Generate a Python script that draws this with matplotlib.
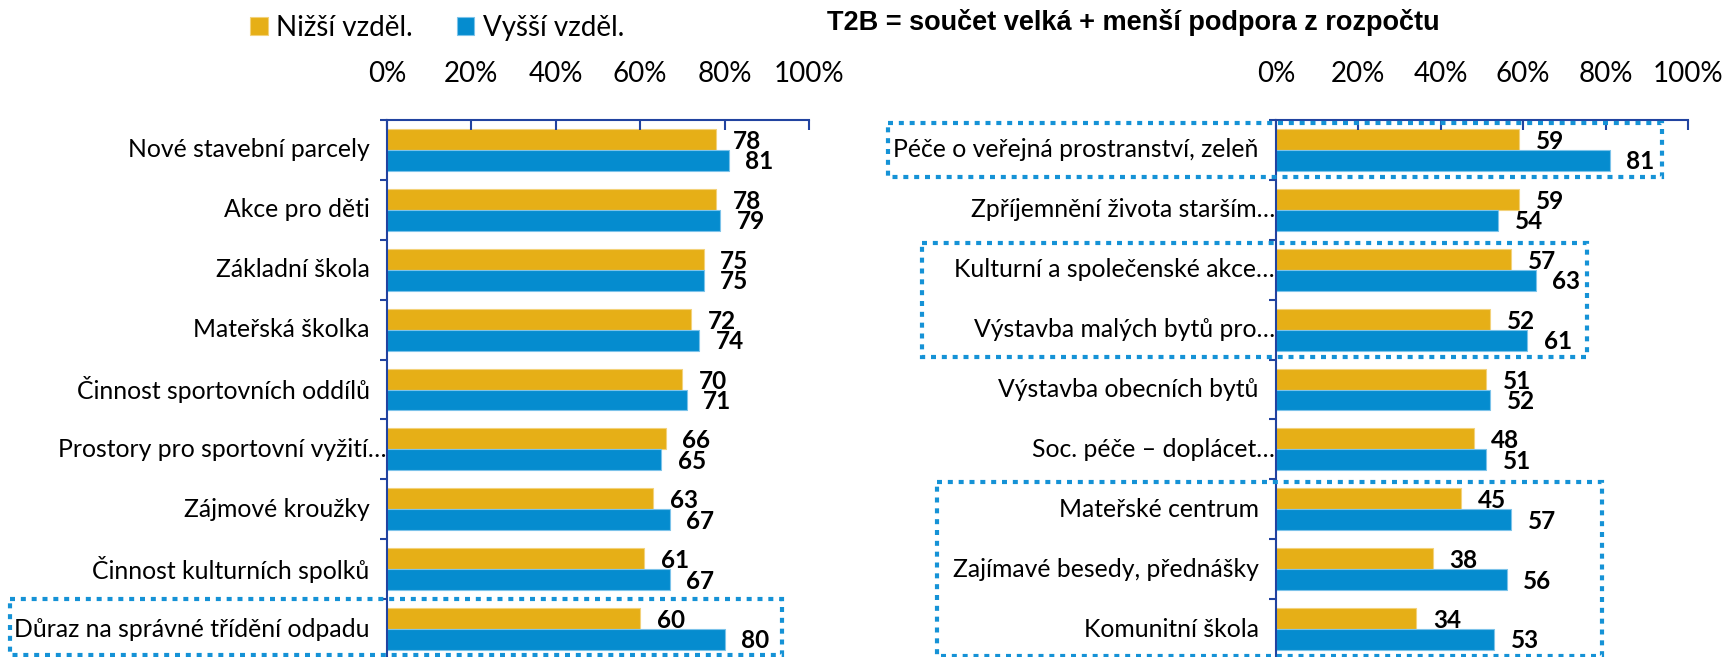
import matplotlib
matplotlib.use("Agg")
import matplotlib.pyplot as plt
import matplotlib.transforms as mtransforms
from matplotlib.patches import Rectangle
import numpy as np

plt.rcParams['font.family'] = ['Lato', 'DejaVu Sans']

SERIES = ['Nižší vzděl.', 'Vyšší vzděl.']
COLORS = ['#E6AF17', '#058CCF']

left_cats = ['Nové stavební parcely', 'Akce pro děti', 'Základní škola',
             'Mateřská školka', 'Činnost sportovních oddílů',
             'Prostory pro sportovní vyžití…', 'Zájmové kroužky',
             'Činnost kulturních spolků', 'Důraz na správné třídění odpadu']
left_low = [78, 78, 75, 72, 70, 66, 63, 61, 60]
left_high = [81, 79, 75, 74, 71, 65, 67, 67, 80]

right_cats = ['Péče o veřejná prostranství, zeleň', 'Zpříjemnění života starším…',
              'Kulturní a společenské akce…', 'Výstavba malých bytů pro…',
              'Výstavba obecních bytů', 'Soc. péče – doplácet…',
              'Mateřské centrum', 'Zajímavé besedy, přednášky', 'Komunitní škola']
right_low = [59, 59, 57, 52, 51, 48, 45, 38, 34]
right_high = [81, 54, 63, 61, 52, 51, 57, 56, 53]

x_ticks = [0, 20, 40, 60, 80, 100]
x_ticklabels = ['0%', '20%', '40%', '60%', '80%', '100%']

title = 'T2B = součet velká + menší podpora z rozpočtu'

W, H = 1726, 657
fig = plt.figure(figsize=(W / 100, H / 100), dpi=100)

SPINE = '#2143A0'
BOX = '#1592D6'
BAR_H = 0.35


def px(x0, x1):
    return x0 / W, (x1 - x0) / W


def draw_panel(ax, cats, low, high):
    y = np.arange(len(cats))
    b1 = ax.barh(y - BAR_H, [v / 100 for v in low], height=BAR_H, align='edge',
                 color=COLORS[0], edgecolor='#F3D27A', linewidth=0.8, label=SERIES[0])
    b2 = ax.barh(y, [v / 100 for v in high], height=BAR_H, align='edge',
                 color=COLORS[1], edgecolor='#7CC3EA', linewidth=0.8, label=SERIES[1])
    for i, (a, b) in enumerate(zip(low, high)):
        ax.annotate(str(a), xy=(a / 100, i - BAR_H / 2), xytext=(12, -1.5),
                    textcoords='offset points', ha='left', va='center',
                    fontsize=17.5, fontweight='bold', color='black')
        ax.annotate(str(b), xy=(b / 100, i + BAR_H / 2), xytext=(12, -1),
                    textcoords='offset points', ha='left', va='center',
                    fontsize=17.5, fontweight='bold', color='black')
    for i, c in enumerate(cats):
        off = -0.7 if c.endswith('…') else -12.5
        ax.annotate(c, xy=(0, i), xycoords=('axes fraction', 'data'),
                    xytext=(off, 0), textcoords='offset points',
                    ha='right', va='center', fontsize=17.8)
    ax.set_xlim(0, 1)
    ax.set_ylim(len(cats) - 0.5, -0.5)
    ax.xaxis.tick_top()
    ax.set_xticks([t / 100 for t in x_ticks])
    ax.set_xticklabels(x_ticklabels, fontsize=20)
    ax.tick_params(axis='x', direction='in', length=7, width=1.5, color=SPINE, pad=24)
    ax.set_yticks(np.arange(len(cats) + 1) - 0.5)
    ax.set_yticklabels([])
    ax.tick_params(axis='y', direction='out', length=5, width=1.5, color=SPINE)
    for s in ['right', 'bottom']:
        ax.spines[s].set_visible(False)
    for s in ['top', 'left']:
        ax.spines[s].set_color(SPINE)
        ax.spines[s].set_linewidth(1.5)
    return b1, b2


bottom = 1 - 659 / H
height = (659 - 120) / H
l0, lw = px(387, 809)
r0, rw = px(1276, 1688)
ax_l = fig.add_axes([l0, bottom, lw, height])
ax_r = fig.add_axes([r0, bottom, rw, height])

bars = draw_panel(ax_l, left_cats, left_low, left_high)
draw_panel(ax_r, right_cats, right_low, right_high)


def box(ax, x0, x1, c0, c1, inset=0.05, bottom_inset=None):
    tr = mtransforms.blended_transform_factory(fig.transFigure, ax.transData)
    y0 = c0 - 0.5 + inset
    y1 = c1 + 0.5 - (inset if bottom_inset is None else bottom_inset)
    r = Rectangle((x0 / W, y0), (x1 - x0) / W, y1 - y0, transform=tr,
                  fill=False, edgecolor=BOX, linewidth=3, linestyle=(0, (1.2, 1.4)),
                  clip_on=False)
    fig.add_artist(r)


box(ax_r, 888, 1662, 0, 0)
box(ax_r, 922, 1587, 2, 3)
box(ax_r, 937, 1602, 6, 8)
box(ax_l, 10, 782, 8, 8, inset=0.0, bottom_inset=0.07)

fig.legend(handles=bars, labels=SERIES, loc='center', bbox_to_anchor=(437 / W, 1 - 28 / H),
           ncol=2, frameon=False, fontsize=20, handlelength=0.63, handleheight=0.63,
           handletextpad=0.3, columnspacing=1.6, borderpad=0, borderaxespad=0)

fig.text(1133 / W, 1 - 22 / H, title, ha='center', va='center', fontsize=19.5,
         fontweight='bold', family=['Liberation Sans', 'DejaVu Sans'])

fig.savefig('out.png', dpi=100)
